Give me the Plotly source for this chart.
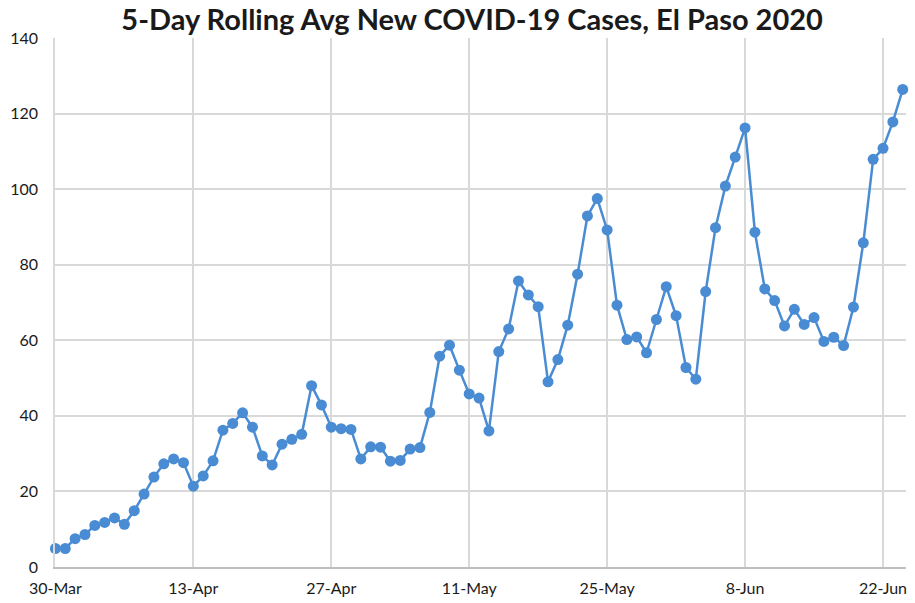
import pandas as pd
import plotly.graph_objects as go

start_date = "2020-03-30"
cases = [
    4.9, 4.9, 7.5, 8.6, 11.0, 11.8, 13.0, 11.3, 14.9, 19.3,
    23.8, 27.3, 28.6, 27.6, 21.4, 24.1, 28.1, 36.2, 38.0, 40.8,
    37.0, 29.4, 27.0, 32.5, 33.8, 35.1, 48.0, 42.9, 37.0, 36.6,
    36.4, 28.6, 31.8, 31.7, 28.0, 28.2, 31.2, 31.6, 40.9, 55.8,
    58.7, 52.1, 45.8, 44.7, 36.0, 57.0, 63.0, 75.7, 72.0, 68.9,
    49.0, 54.9, 64.0, 77.5, 92.9, 97.5, 89.2, 69.3, 60.2, 60.9,
    56.7, 65.5, 74.2, 66.5, 52.8, 49.7, 72.9, 89.8, 100.8, 108.5,
    116.2, 88.6, 73.6, 70.5, 63.8, 68.2, 64.2, 66.0, 59.7, 60.8,
    58.6, 68.8, 85.8, 107.9, 110.8, 117.8, 126.4,
]
dates = pd.date_range(start_date, periods=len(cases), freq="D")
y_ticks = [0, 20, 40, 60, 80, 100, 120, 140]
title_text = "5-Day Rolling Avg New COVID-19 Cases, El Paso 2020"

color = "#4A8CD3"
fig = go.Figure()
fig.add_trace(go.Scatter(
    x=dates, y=cases, mode="lines+markers",
    line=dict(color=color, width=2.5),
    marker=dict(color=color, size=11),
    showlegend=False, cliponaxis=False,
))

fig.update_layout(
    width=915, height=603,
    margin=dict(l=55, r=9, t=38, b=36, autoexpand=False),
    paper_bgcolor="white", plot_bgcolor="white",
    font=dict(family="Lato, Open Sans, sans-serif", size=16, color="#1a1a1a"),
    title=dict(text="<b>" + title_text + "</b>", x=0.516, xanchor="center",
               y=0.967, yanchor="middle", automargin=False,
               font=dict(family="Lato, sans-serif", size=29, color="#1a1a1a")),
)
fig.update_xaxes(
    type="date", automargin=False,
    range=[pd.Timestamp("2020-03-30") - pd.Timedelta(hours=1),
           pd.Timestamp("2020-06-24") + pd.Timedelta(hours=8)],
    tickmode="linear", tick0="2020-03-30", dtick=14 * 86400000,
    tickformat="%-d-%b",
    showgrid=True, gridcolor="#d9d9d9", gridwidth=1.5,
    showline=True, linecolor="#bfbfbf", linewidth=1.5,
    ticks="", zeroline=False, ticklabelstandoff=6,
)
fig.update_yaxes(
    range=[0, 140], tickvals=y_ticks, automargin=False,
    showgrid=True, gridcolor="#d9d9d9", gridwidth=1.5,
    showline=True, linecolor="#d9d9d9", linewidth=1.5,
    ticks="", zeroline=False, ticklabelstandoff=12,
)
fig.write_html(
    "out.html",
    config={"displayModeBar": False},
    post_script="document.body.style.margin='0';document.body.style.overflow='hidden';",
)
